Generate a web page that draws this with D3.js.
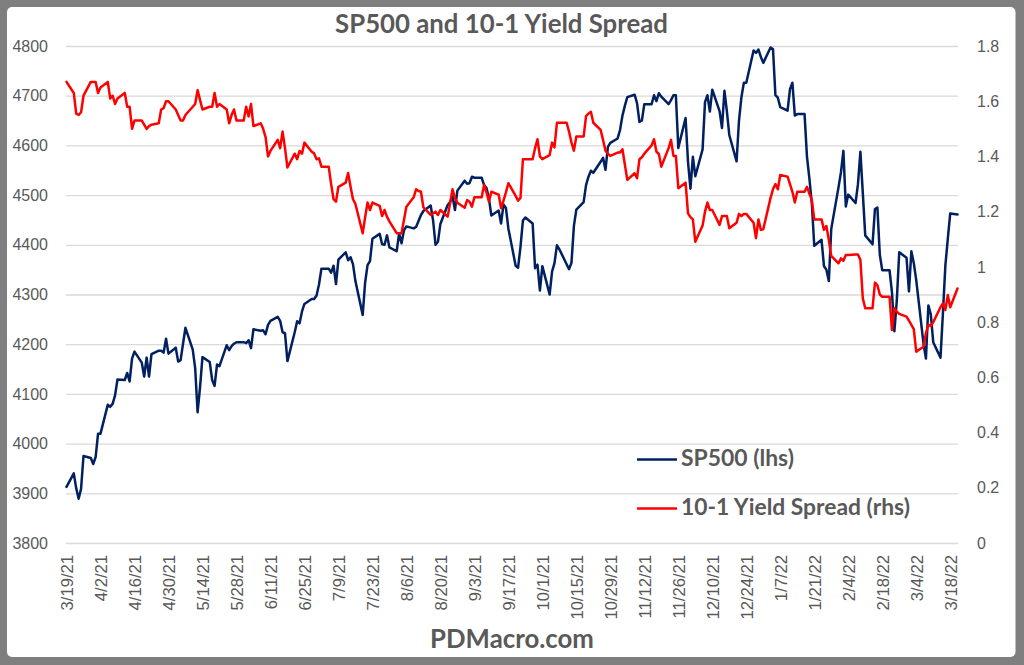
<!DOCTYPE html>
<html>
<head>
<meta charset="utf-8">
<script src="https://cdn.jsdelivr.net/npm/d3@7"></script>
<style>
  body { margin: 0; background: #ffffff; }
  svg { display: block; }
</style>
</head>
<body>
<svg id="chart" width="1024" height="665"></svg>
<script>
// ---------------- DATA ----------------
const chartTitle = "SP500 and 10-1 Yield Spread";
const footerText = "PDMacro.com";
const seriesNames = ["SP500 (lhs)", "10-1 Yield Spread (rhs)"];

const dates = [
  "3/19/21","3/22/21","3/23/21","3/24/21","3/25/21","3/26/21","3/29/21","3/30/21","3/31/21",
  "4/1/21","4/2/21","4/5/21","4/6/21","4/7/21","4/8/21","4/9/21","4/12/21","4/13/21","4/14/21","4/15/21","4/16/21","4/19/21","4/20/21","4/21/21","4/22/21","4/23/21","4/26/21","4/27/21","4/28/21","4/29/21","4/30/21",
  "5/3/21","5/4/21","5/5/21","5/6/21","5/7/21","5/10/21","5/11/21","5/12/21","5/13/21","5/14/21","5/17/21","5/18/21","5/19/21","5/20/21","5/21/21","5/24/21","5/25/21","5/26/21","5/27/21","5/28/21","5/31/21",
  "6/1/21","6/2/21","6/3/21","6/4/21","6/7/21","6/8/21","6/9/21","6/10/21","6/11/21","6/14/21","6/15/21","6/16/21","6/17/21","6/18/21","6/21/21","6/22/21","6/23/21","6/24/21","6/25/21","6/28/21","6/29/21","6/30/21",
  "7/1/21","7/2/21","7/5/21","7/6/21","7/7/21","7/8/21","7/9/21","7/12/21","7/13/21","7/14/21","7/15/21","7/16/21","7/19/21","7/20/21","7/21/21","7/22/21","7/23/21","7/26/21","7/27/21","7/28/21","7/29/21","7/30/21",
  "8/2/21","8/3/21","8/4/21","8/5/21","8/6/21","8/9/21","8/10/21","8/11/21","8/12/21","8/13/21","8/16/21","8/17/21","8/18/21","8/19/21","8/20/21","8/23/21","8/24/21","8/25/21","8/26/21","8/27/21","8/30/21","8/31/21",
  "9/1/21","9/2/21","9/3/21","9/6/21","9/7/21","9/8/21","9/9/21","9/10/21","9/13/21","9/14/21","9/15/21","9/16/21","9/17/21","9/20/21","9/21/21","9/22/21","9/23/21","9/24/21","9/27/21","9/28/21","9/29/21","9/30/21",
  "10/1/21","10/4/21","10/5/21","10/6/21","10/7/21","10/8/21","10/11/21","10/12/21","10/13/21","10/14/21","10/15/21","10/18/21","10/19/21","10/20/21","10/21/21","10/22/21","10/25/21","10/26/21","10/27/21","10/28/21","10/29/21",
  "11/1/21","11/2/21","11/3/21","11/4/21","11/5/21","11/8/21","11/9/21","11/10/21","11/11/21","11/12/21","11/15/21","11/16/21","11/17/21","11/18/21","11/19/21","11/22/21","11/23/21","11/24/21","11/25/21","11/26/21","11/29/21","11/30/21",
  "12/1/21","12/2/21","12/3/21","12/6/21","12/7/21","12/8/21","12/9/21","12/10/21","12/13/21","12/14/21","12/15/21","12/16/21","12/17/21","12/20/21","12/21/21","12/22/21","12/23/21","12/24/21","12/27/21","12/28/21","12/29/21","12/30/21","12/31/21",
  "1/3/22","1/4/22","1/5/22","1/6/22","1/7/22","1/10/22","1/11/22","1/12/22","1/13/22","1/14/22","1/17/22","1/18/22","1/19/22","1/20/22","1/21/22","1/24/22","1/25/22","1/26/22","1/27/22","1/28/22","1/31/22",
  "2/1/22","2/2/22","2/3/22","2/4/22","2/7/22","2/8/22","2/9/22","2/10/22","2/11/22","2/14/22","2/15/22","2/16/22","2/17/22","2/18/22","2/21/22","2/22/22","2/23/22","2/24/22","2/25/22","2/28/22",
  "3/1/22","3/2/22","3/3/22","3/4/22","3/7/22","3/8/22","3/9/22","3/10/22","3/11/22","3/14/22","3/15/22","3/16/22","3/17/22","3/18/22","3/21/22"
];

const sp500 = [
  3913,3940,3910,3889,3909,3975,3971,3959,3973,
  4020,4020,4078,4074,4080,4097,4129,4128,4142,4125,4171,4185,4163,4135,4173,4135,4180,4187,4187,4183,4211,4181,
  4193,4165,4168,4201,4233,4189,4152,4063,4113,4174,4164,4128,4116,4159,4156,4198,4188,4196,4201,4204,4204,
  4202,4208,4192,4230,4227,4228,4220,4239,4247,4255,4247,4224,4222,4166,4224,4246,4242,4266,4281,4291,4291,4298,
  4320,4352,4352,4344,4358,4321,4370,4385,4369,4375,4361,4327,4259,4324,4359,4367,4412,4422,4401,4400,4419,4395,
  4387,4423,4403,4429,4437,4433,4436,4448,4460,4468,4479,4449,4400,4406,4442,4480,4486,4497,4470,4509,4529,4523,
  4524,4537,4535,4535,4520,4514,4493,4459,4469,4443,4481,4474,4433,4358,4354,4396,4449,4455,4443,4353,4360,4308,
  4357,4300,4346,4363,4399,4391,4361,4351,4364,4438,4471,4486,4520,4537,4549,4545,4567,4575,4551,4597,4605,
  4614,4631,4660,4680,4697,4702,4685,4647,4650,4683,4683,4701,4689,4705,4698,4683,4691,4701,4701,4595,4655,4567,
  4513,4577,4538,4592,4687,4701,4668,4712,4669,4635,4710,4669,4621,4568,4650,4697,4726,4726,4791,4786,4793,4778,4766,
  4797,4794,4701,4696,4677,4670,4713,4726,4660,4663,4663,4577,4533,4483,4398,4410,4357,4350,4327,4432,4516,
  4546,4589,4477,4501,4484,4522,4587,4504,4419,4401,4472,4475,4380,4349,4349,4305,4226,4288,4385,4374,
  4306,4387,4363,4329,4201,4171,4278,4260,4204,4173,4263,4358,4412,4463,4461
];

const spread = [
  1.67,1.63,1.555,1.55,1.56,1.62,1.67,1.67,1.67,
  1.63,1.65,1.67,1.61,1.62,1.59,1.61,1.63,1.58,1.58,1.50,1.53,1.53,1.515,1.50,1.51,1.515,1.52,1.57,1.575,1.60,1.60,
  1.57,1.55,1.53,1.53,1.55,1.58,1.59,1.64,1.605,1.57,1.58,1.58,1.63,1.58,1.59,1.57,1.52,1.55,1.57,1.53,1.53,
  1.58,1.545,1.59,1.51,1.52,1.50,1.47,1.40,1.42,1.46,1.43,1.49,1.43,1.36,1.41,1.39,1.42,1.41,1.45,1.417,1.411,1.39,
  1.393,1.363,1.363,1.30,1.245,1.236,1.29,1.305,1.34,1.29,1.245,1.228,1.122,1.18,1.233,1.206,1.233,1.221,1.184,1.206,1.182,1.165,
  1.122,1.122,1.122,1.17,1.218,1.252,1.281,1.275,1.272,1.216,1.188,1.194,1.200,1.188,1.206,1.182,1.23,1.281,1.25,1.232,1.214,1.242,
  1.236,1.218,1.252,1.252,1.297,1.27,1.236,1.272,1.262,1.212,1.24,1.27,1.303,1.257,1.240,1.25,1.390,1.390,1.390,1.43,1.462,1.40,
  1.39,1.405,1.450,1.433,1.522,1.522,1.522,1.49,1.45,1.421,1.472,1.472,1.546,1.555,1.562,1.522,1.496,1.46,1.421,1.41,1.402,
  1.414,1.414,1.426,1.37,1.315,1.339,1.321,1.390,1.397,1.41,1.44,1.462,1.417,1.409,1.363,1.43,1.460,1.402,1.402,1.285,1.305,1.194,
  1.18,1.172,1.091,1.15,1.20,1.233,1.206,1.206,1.152,1.184,1.184,1.184,1.140,1.160,1.192,1.184,1.192,1.192,1.16,1.104,1.172,1.134,1.136,
  1.25,1.281,1.300,1.281,1.333,1.327,1.30,1.272,1.233,1.272,1.272,1.29,1.265,1.242,1.172,1.172,1.134,1.148,1.097,1.040,1.013,
  1.031,1.022,1.043,1.043,1.045,1.045,1.025,0.886,0.850,0.850,0.943,0.934,0.90,0.892,0.892,0.771,0.850,0.838,0.83,0.82,
  0.805,0.79,0.775,0.693,0.711,0.76,0.790,0.786,0.80,0.854,0.868,0.844,0.898,0.854,0.922
];

const xTickLabels = ["3/19/21","4/2/21","4/16/21","4/30/21","5/14/21","5/28/21","6/11/21","6/25/21","7/9/21","7/23/21","8/6/21","8/20/21","9/3/21","9/17/21","10/1/21","10/15/21","10/29/21","11/12/21","11/26/21","12/10/21","12/24/21","1/7/22","1/21/22","2/4/22","2/18/22","3/4/22","3/18/22"];
const leftTicks = [3800,3900,4000,4100,4200,4300,4400,4500,4600,4700,4800];
const rightTicks = [0,0.2,0.4,0.6,0.8,1,1.2,1.4,1.6,1.8];

// ---------------- CHART ----------------
const W = 1024, H = 665;
const plot = { left: 66.5, right: 957.5, top: 46, bottom: 543 };
const parse = d3.timeParse("%m/%d/%y");
const rows = dates.map((d, i) => ({ date: parse(d), sp: sp500[i], ys: spread[i] }));

const svg = d3.select("#chart");
const textGray = "#595959";
const boldFont = "Lato, 'Open Sans', sans-serif";
const tickFont = "'Liberation Sans', Arial, sans-serif";

// frame
svg.append("rect").attr("width", W).attr("height", H).attr("fill", "#7f7f7f");
svg.append("rect").attr("x", 7).attr("y", 7).attr("width", 1008.5).attr("height", 650)
  .attr("rx", 5).attr("fill", "#ffffff");

const x = d3.scaleTime()
  .domain([parse(dates[0]), parse(dates[dates.length - 1])])
  .range([plot.left, plot.right]);
const yL = d3.scaleLinear().domain([3800, 4800]).range([plot.bottom, plot.top]);
const yR = d3.scaleLinear().domain([0, 1.8]).range([plot.bottom, plot.top]);

// gridlines
const grid = svg.append("g").attr("transform", `translate(${plot.left - 0.5},0)`)
  .call(d3.axisLeft(yL).tickValues(leftTicks).tickSize(-(plot.right - plot.left + 1)).tickFormat(""));
grid.select(".domain").remove();
grid.selectAll("line").attr("stroke", "#d9d9d9").attr("stroke-width", 1.3);

// left axis labels
const gl = svg.append("g").attr("transform", "translate(48,0)")
  .call(d3.axisLeft(yL).tickValues(leftTicks).tickSize(0).tickPadding(0).tickFormat(d3.format("d")));
gl.select(".domain").remove();
gl.selectAll("text").attr("font-family", tickFont).attr("font-size", 16).attr("fill", textGray);

// right axis labels
const gr = svg.append("g").attr("transform", "translate(977,0)")
  .call(d3.axisRight(yR).tickValues(rightTicks).tickSize(0).tickPadding(0).tickFormat(d => String(d)));
gr.select(".domain").remove();
gr.selectAll("text").attr("font-family", tickFont).attr("font-size", 16).attr("fill", textGray);

// x axis labels
const gx = svg.append("g").attr("transform", "translate(0,555)")
  .call(d3.axisBottom(x).tickValues(xTickLabels.map(parse)).tickSize(0)
    .tickFormat((d, i) => xTickLabels[i]));
gx.select(".domain").remove();
gx.selectAll("text")
  .attr("font-family", tickFont).attr("font-size", 16.6).attr("fill", textGray)
  .attr("transform", "rotate(-90)")
  .attr("text-anchor", "end")
  .attr("x", 0).attr("y", 0).attr("dy", "0.35em");

// lines
const blue = "#002060", red = "#ff0000";
const lineSP = d3.line().x(d => x(d.date)).y(d => yL(d.sp));
const lineYS = d3.line().x(d => x(d.date)).y(d => yR(d.ys));
svg.append("path").datum(rows).attr("d", lineSP)
  .attr("fill", "none").attr("stroke", blue).attr("stroke-width", 2.5)
  .attr("stroke-linejoin", "round").attr("stroke-linecap", "round");
svg.append("path").datum(rows).attr("d", lineYS)
  .attr("fill", "none").attr("stroke", red).attr("stroke-width", 2.5)
  .attr("stroke-linejoin", "round").attr("stroke-linecap", "round");

// helper: fit bold text to a target width
function fitText(sel, target, startSize) {
  sel.attr("font-size", startSize);
  const w = sel.node().getComputedTextLength();
  if (w > 0) sel.attr("font-size", startSize * target / w);
  return sel;
}

// title
const t = svg.append("text").attr("x", 501.5).attr("y", 33).attr("text-anchor", "middle")
  .attr("font-family", boldFont).attr("font-weight", "bold").attr("fill", textGray)
  .text(chartTitle);
fitText(t, 333, 25);

// footer
const f = svg.append("text").attr("x", 512).attr("y", 648).attr("text-anchor", "middle")
  .attr("font-family", boldFont).attr("font-weight", "bold").attr("fill", textGray)
  .text(footerText);
fitText(f, 164, 25);

// legend
const legendColors = [blue, red];
const legendY = [459.5, 508.5];
const legendW = [113, 229];
seriesNames.forEach((name, i) => {
  svg.append("line").attr("x1", 637).attr("x2", 677).attr("y1", legendY[i]).attr("y2", legendY[i])
    .attr("stroke", legendColors[i]).attr("stroke-width", 2.5);
  const lt = svg.append("text").attr("x", 681).attr("y", legendY[i] + 6.5)
    .attr("font-family", boldFont).attr("font-weight", "bold").attr("fill", textGray)
    .text(name);
  fitText(lt, legendW[i], 18);
});
</script>
</body>
</html>
